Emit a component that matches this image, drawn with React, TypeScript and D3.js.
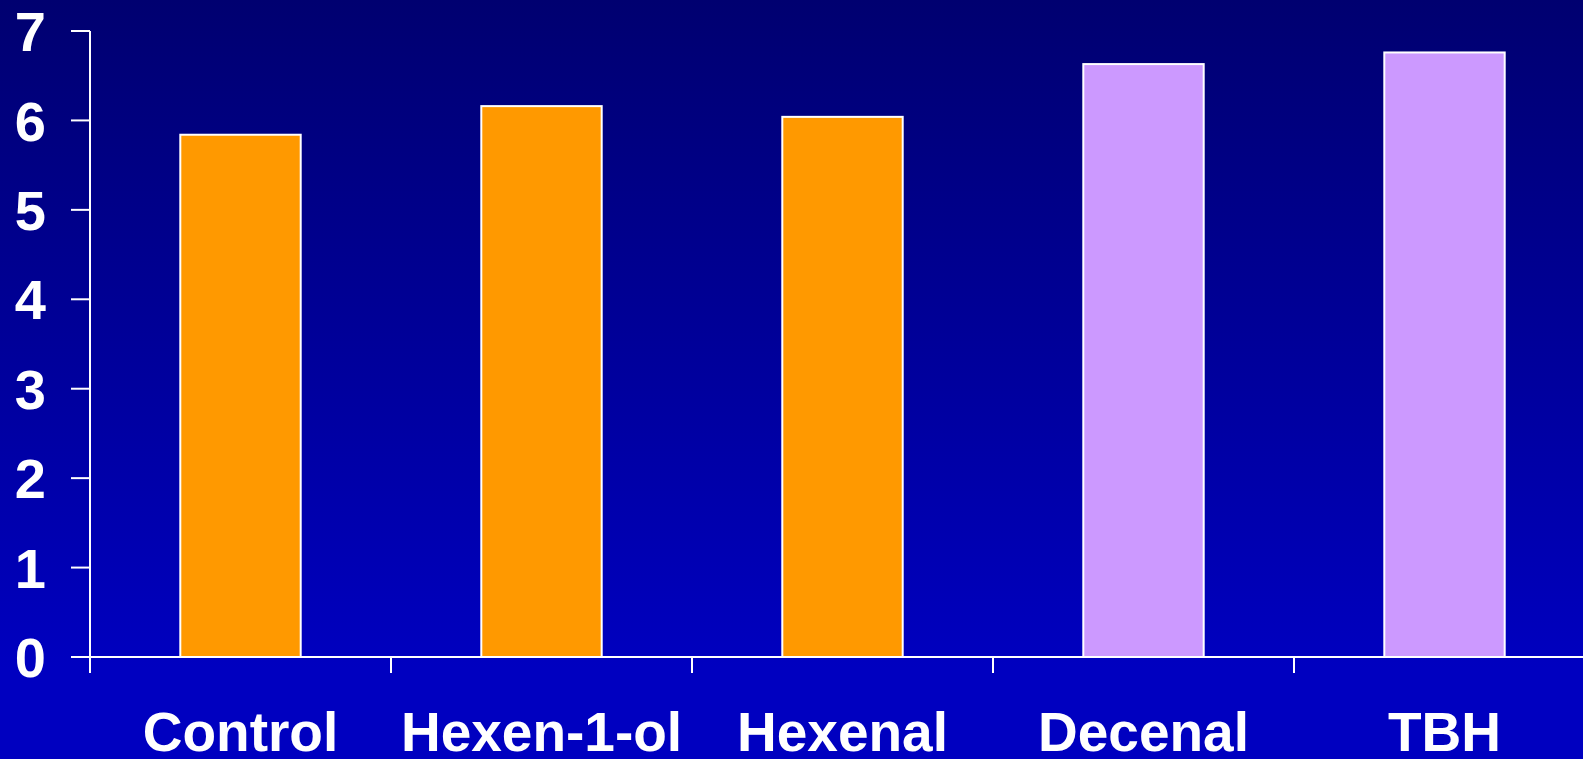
import React from 'react';
import * as d3 from 'd3';

const width = 1583;
const height = 759;

const margin = { top: 31, left: 90, bottom: 102, right: -12 };

const categories = ['Control', 'Hexen-1-ol', 'Hexenal', 'Decenal', 'TBH'];
const values = [5.84, 6.16, 6.04, 6.63, 6.76];
const barColors = ['#FF9900', '#FF9900', '#FF9900', '#CC99FF', '#CC99FF'];
const yTicks = [0, 1, 2, 3, 4, 5, 6, 7];

export default function App() {
    const x = d3.scaleBand<string>()
        .domain(categories)
        .range([margin.left, width - margin.right])
        .paddingInner(0.6)
        .paddingOuter(0.3);

    const y = d3.scaleLinear()
        .domain([0, 7])
        .range([height - margin.bottom, margin.top]);

    const step = x.step();
    const y0 = y(0);
    // boundaries between categories (tick marks on the x axis)
    const bounds = categories.map((_, i) => margin.left + i * step);

    return (
        <div style={{ position: 'fixed', left: 0, top: 0 }}>
            <svg width={width} height={height} style={{ display: 'block' }}>
                <defs>
                    <linearGradient id="bg" x1="0" y1="0" x2="0" y2="1">
                        <stop offset="0" stopColor="#000070" />
                        <stop offset="0.88" stopColor="#0000C0" />
                        <stop offset="1" stopColor="#0000C0" />
                    </linearGradient>
                </defs>
                <rect x={0} y={0} width={width} height={height} fill="url(#bg)" />

                {categories.map((c, i) => (
                    <rect
                        key={c}
                        x={x(c)}
                        y={y(values[i])}
                        width={x.bandwidth()}
                        height={y0 - y(values[i])}
                        fill={barColors[i]}
                        stroke="#FFFFFF"
                        strokeWidth={2}
                    />
                ))}

                {/* y axis */}
                <line x1={margin.left} x2={margin.left} y1={y(7)} y2={y0 + 16} stroke="#FFFFFF" strokeWidth={2} />
                {yTicks.map(t => (
                    <g key={t}>
                        <line x1={margin.left - 19} x2={margin.left} y1={y(t)} y2={y(t)} stroke="#FFFFFF" strokeWidth={2} />
                        <text
                            x={46}
                            y={y(t)}
                            dy="0.36em"
                            textAnchor="end"
                            fill="#FFFFFF"
                            fontFamily="'Liberation Sans', Arial, sans-serif"
                            fontWeight="bold"
                            fontSize={56}
                        >{t}</text>
                    </g>
                ))}

                {/* x axis */}
                <line x1={margin.left - 19} x2={width} y1={y0} y2={y0} stroke="#FFFFFF" strokeWidth={2} />
                {bounds.map((b, i) => (
                    <line key={i} x1={b} x2={b} y1={y0} y2={y0 + 16} stroke="#FFFFFF" strokeWidth={2} />
                ))}
                {categories.map(c => (
                    <text
                        key={c}
                        x={(x(c) ?? 0) + x.bandwidth() / 2}
                        y={751}
                        textAnchor="middle"
                        fill="#FFFFFF"
                        fontFamily="'Liberation Sans', Arial, sans-serif"
                        fontWeight="bold"
                        fontSize={55}
                    >{c}</text>
                ))}
            </svg>
        </div>
    );
}
